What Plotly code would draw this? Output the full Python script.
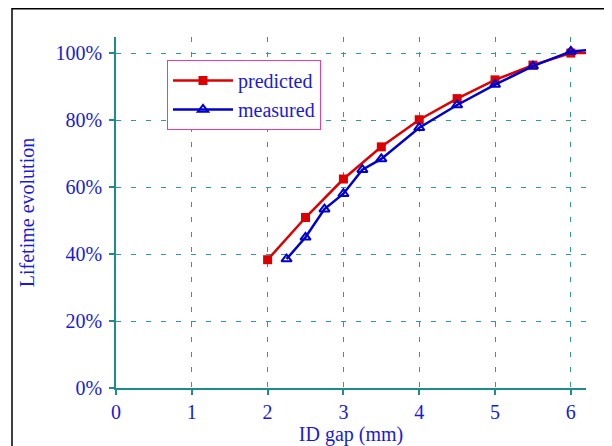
import plotly.graph_objects as go

# Data
pred_x = [2, 2.5, 3, 3.5, 4, 4.5, 5, 5.5, 6, 6.5]
pred_y = [38.3, 50.9, 62.4, 72.0, 80.1, 86.4, 92.0, 96.4, 100.0, 100.0]
meas_x = [2.25, 2.5, 2.75, 3, 3.25, 3.5, 4, 4.5, 5, 5.5, 6, 6.5]
meas_y = [38.5, 45.0, 53.4, 58.0, 65.2, 68.4, 77.7, 84.5, 90.6, 96.1, 100.5, 101.3]
x_ticks = [0, 1, 2, 3, 4, 5, 6]
y_ticks = [0, 20, 40, 60, 80, 100]
y_tick_labels = ["0%", "20%", "40%", "60%", "80%", "100%"]

FONT = "Liberation Serif, Times New Roman, serif"
TXT = "#1a1ad6"
TEAL = "#1f8c8c"
GRID = "#2f9a9a"

fig = go.Figure()
fig.add_trace(go.Scatter(
    x=pred_x, y=pred_y, name="predicted", mode="lines+markers",
    line=dict(color="#dd0000", width=2.5),
    marker=dict(symbol="square", size=9, color="#dd0000"),
))
fig.add_trace(go.Scatter(
    x=meas_x, y=meas_y, name="measured", mode="lines+markers",
    line=dict(color="#0000cc", width=2.5),
    marker=dict(symbol="triangle-up-open", size=9, color="#0000cc",
                line=dict(width=2, color="#0000cc")),
))

# page has an 8px body margin: figure coords = reference coords - 8
OFF = 8
W, H = 612 - OFF, 446 - OFF
L, T = 116 - OFF, 37 - OFF
R = W - (586 - OFF)
B = H - (388 - OFF)
pw = W - L - R
ph = H - T - B


def px(xr):
    return (xr - OFF - L) / pw


def py(yr):
    return (H - B - (yr - OFF)) / ph


fig.update_layout(
    width=W, height=H,
    margin=dict(l=L, r=R, t=T, b=B, pad=0, autoexpand=False),
    paper_bgcolor="white", plot_bgcolor="white",
    font=dict(family=FONT, size=20, color=TXT),
    showlegend=True,
    legend=dict(
        x=px(167), y=py(60), xanchor="left", yanchor="top",
        bordercolor="#e8409a", borderwidth=1, bgcolor="white",
        font=dict(family=FONT, size=20, color=TXT),
        tracegroupgap=0, itemwidth=60,
    ),
    xaxis=dict(
        range=[0, 6.2], tickvals=x_ticks, ticktext=[str(v) for v in x_ticks],
        showgrid=True, gridcolor=GRID, griddash="5px,10px", gridwidth=1.3,
        showline=True, linecolor=TEAL, linewidth=1.5,
        ticks="outside", ticklen=5, tickcolor=TEAL, tickwidth=1.5,
        zeroline=False, automargin=False, ticklabelstandoff=0,
        title=dict(text="ID gap (mm)", font=dict(family=FONT, size=20, color=TXT), standoff=0),
        tickfont=dict(family=FONT, size=20, color=TXT),
    ),
    yaxis=dict(
        range=[0, 104.8], tickvals=y_ticks, ticktext=y_tick_labels,
        showgrid=True, gridcolor=GRID, griddash="5px,10px", gridwidth=1.3,
        showline=True, linecolor=TEAL, linewidth=1.5,
        ticks="outside", ticklen=5, tickcolor=TEAL, tickwidth=1.5,
        zeroline=False, automargin=False, ticklabelstandoff=3,
        title=dict(text="Lifetime evolution", font=dict(family=FONT, size=20, color=TXT), standoff=16),
        tickfont=dict(family=FONT, size=20, color=TXT),
    ),
    shapes=[dict(
        type="rect", xref="paper", yref="paper",
        x0=px(12), x1=px(611),
        y0=py(470), y1=py(8.8),
        line=dict(color="black", width=1.5), fillcolor="rgba(0,0,0,0)", layer="below",
    )],
)

fig.write_html("out.html")
